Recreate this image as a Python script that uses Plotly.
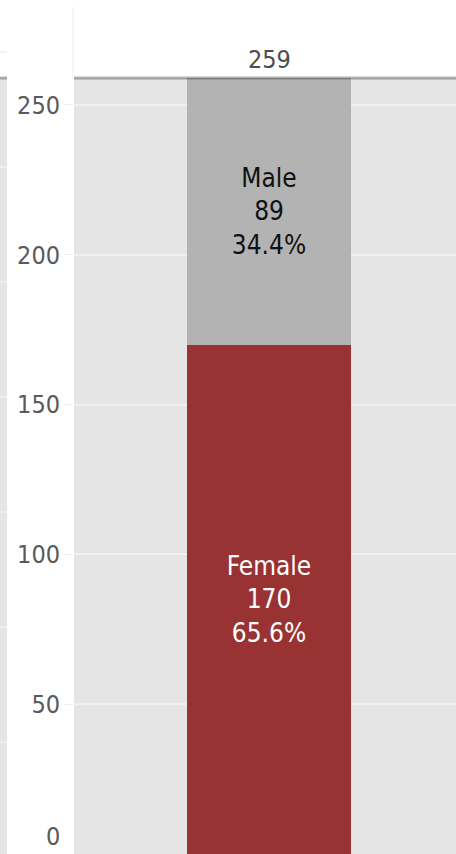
import plotly.graph_objects as go

# ---- data ----
categories = ["All"]
female_counts = [170]
male_counts = [89]
series_names = ["Female", "Male"]
series_colors = ["#993333", "#b3b3b3"]
y_tick_values = [50, 100, 150, 200, 250]
y_zero_label = 0

totals = [f + m for f, m in zip(female_counts, male_counts)]

FONT = "DejaVu Sans Condensed, DejaVu Sans, sans-serif"
W, H = 456, 854
PLOT_LEFT = 74


def labels(name, vals):
    return [f"{name}<br>{v}<br>{v / t * 100:.1f}%" for v, t in zip(vals, totals)]


fig = go.Figure()
fig.add_trace(go.Bar(
    x=categories, y=female_counts, name=series_names[0],
    marker=dict(color=series_colors[0], line=dict(width=0)),
    text=labels(series_names[0], female_counts), textposition="inside",
    insidetextanchor="middle", textangle=0,
    textfont=dict(family=FONT, size=26, color="#ffffff"),
    width=0.4205, xaxis="x", yaxis="y",
))
fig.add_trace(go.Bar(
    x=categories, y=male_counts, name=series_names[1],
    marker=dict(color=series_colors[1], line=dict(width=0)),
    text=labels(series_names[1], male_counts), textposition="inside",
    insidetextanchor="middle", textangle=0,
    textfont=dict(family=FONT, size=26, color="#111111"),
    width=0.4205, xaxis="x", yaxis="y",
))

# left neighbouring panel strip (empty)
fig.add_trace(go.Scatter(x=[0], y=[0], mode="markers", marker=dict(opacity=0),
                         xaxis="x2", yaxis="y2", hoverinfo="skip", showlegend=False))

for cat, tot in zip(categories, totals):
    fig.add_annotation(x=cat, y=tot, xref="x", yref="y", text=str(tot),
                       showarrow=False, yanchor="bottom", yshift=2,
                       font=dict(family=FONT, size=25, color="#4d4d4d"))

# zero label kept inside the chart (as in the reference)
fig.add_annotation(x=62 / W, y=y_zero_label, xref="paper", yref="y", text=str(y_zero_label),
                   showarrow=False, xanchor="right", yanchor="bottom", yshift=1,
                   font=dict(family=FONT, size=25, color="#5a5a5a"))

# top border lines
fig.add_shape(type="line", xref="paper", yref="paper", x0=PLOT_LEFT / W, x1=1, y0=1, y1=1,
              line=dict(color="rgba(0,0,0,0.3)", width=3), layer="above")
fig.add_shape(type="line", xref="paper", yref="paper", x0=0, x1=7 / W, y0=1, y1=1,
              line=dict(color="rgba(0,0,0,0.3)", width=3), layer="above")
# faint separators
fig.add_shape(type="line", xref="paper", yref="paper", x0=73 / W, x1=73 / W,
              y0=1, y1=1 + 71 / 776, line=dict(color="#eeeeee", width=1))
fig.add_shape(type="line", xref="paper", yref="paper", x0=0, x1=7 / W,
              y0=1 + 26 / 776, y1=1 + 26 / 776, line=dict(color="#e5e5e5", width=1))

fig.update_layout(
    width=W, height=H,
    margin=dict(l=0, r=0, t=78, b=0, pad=0),
    paper_bgcolor="#ffffff", plot_bgcolor="#e5e5e5",
    barmode="stack", bargap=0, showlegend=False,
    font=dict(family=FONT, size=25, color="#5a5a5a"),
    xaxis=dict(domain=[PLOT_LEFT / W, 1], range=[-0.5, 0.4795], showticklabels=False,
               showgrid=False, zeroline=False, ticks="", fixedrange=True),
    yaxis=dict(range=[0, 259], tickvals=y_tick_values, showgrid=True,
               gridcolor="#f0f0f0", gridwidth=1.5, zeroline=False,
               ticks="outside", ticklen=8, tickcolor="#eeeeee", tickwidth=1,
               tickfont=dict(family=FONT, size=25, color="#5a5a5a"),
               showline=False),
    xaxis2=dict(domain=[0, 7 / W], range=[0, 1], showticklabels=False, showgrid=False,
                zeroline=False, anchor="y2"),
    yaxis2=dict(domain=[0, 1], range=[-0.974, 5.774], dtick=1, tick0=0,
                showticklabels=False, showgrid=True, gridcolor="#f0f0f0", gridwidth=1.5,
                zeroline=False, anchor="x2"),
)

fig.write_html("out.html", config={"displayModeBar": False},
               post_script="document.body.style.margin='0';document.body.style.overflow='hidden';")
